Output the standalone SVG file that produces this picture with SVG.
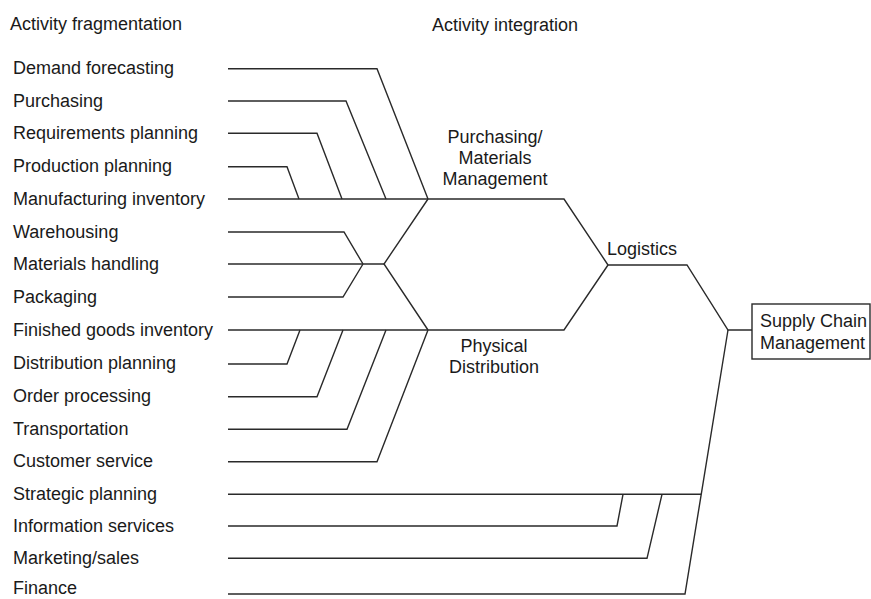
<svg xmlns="http://www.w3.org/2000/svg" width="871" height="599" viewBox="0 0 871 599">
<style>
text{font-family:"Liberation Sans",Arial,sans-serif;font-size:18px;fill:#1a1a1a}
.c{text-anchor:middle}
.ln{fill:none;stroke:#2a2a2a;stroke-width:1.4;stroke-linejoin:miter}
</style>
<rect width="871" height="599" fill="#fff"/>
<g id="headers">
<text x="10" y="30">Activity fragmentation</text>
<text x="432" y="31">Activity integration</text>
</g>
<g id="activities">
<text x="13" y="74">Demand forecasting</text>
<text x="13" y="106.5">Purchasing</text>
<text x="13" y="139">Requirements planning</text>
<text x="13" y="172">Production planning</text>
<text x="13" y="204.5">Manufacturing inventory</text>
<text x="13" y="237.5">Warehousing</text>
<text x="13" y="270">Materials handling</text>
<text x="13" y="302.5">Packaging</text>
<text x="13" y="335.5">Finished goods inventory</text>
<text x="13" y="369">Distribution planning</text>
<text x="13" y="402">Order processing</text>
<text x="13" y="435">Transportation</text>
<text x="13" y="467">Customer service</text>
<text x="13" y="500">Strategic planning</text>
<text x="13" y="532">Information services</text>
<text x="13" y="564">Marketing/sales</text>
<text x="13" y="594">Finance</text>
</g>
<g id="node-pmm">
<text class="c" x="495" y="143">Purchasing/</text>
<text class="c" x="495" y="164">Materials</text>
<text class="c" x="495" y="185">Management</text>
</g>
<g id="node-pd">
<text class="c" x="494" y="352">Physical</text>
<text class="c" x="494" y="373">Distribution</text>
</g>
<g id="node-logistics">
<text x="607" y="255">Logistics</text>
</g>
<g id="node-scm">
<rect x="752" y="304" width="118" height="55" fill="#fff" stroke="#2a2a2a" stroke-width="1.4"/>
<text x="760" y="327">Supply Chain</text>
<text x="760" y="349">Management</text>
</g>
<g id="connectors" class="ln">
<polyline class="ln" points="228,68.7 377,68.7 428,199"/>
<polyline class="ln" points="228,101 346,101 386,199"/>
<polyline class="ln" points="228,133.3 317,133.3 342,199"/>
<polyline class="ln" points="228,166.7 287,166.7 299,199"/>
<polyline class="ln" points="228,199 564,199 608,265"/>
<polyline class="ln" points="228,232 344,232 363,264"/>
<polyline class="ln" points="228,297 343,297 363,264"/>
<polyline class="ln" points="228,264 384,264"/>
<polyline class="ln" points="428,199 384,264 428,330"/>
<polyline class="ln" points="228,330 564,330 608,265"/>
<polyline class="ln" points="228,364 287,364 300,330"/>
<polyline class="ln" points="228,396.7 317,396.7 343,330"/>
<polyline class="ln" points="228,429.3 347,429.3 386,330"/>
<polyline class="ln" points="228,461.7 377,461.7 428,330"/>
<polyline class="ln" points="608,265 687,265 728,330 752,330"/>
<polyline class="ln" points="728,330 685,594 228,594"/>
<polyline class="ln" points="228,494.3 701,494.3"/>
<polyline class="ln" points="228,526 617,526 623,494.3"/>
<polyline class="ln" points="228,558.3 647,558.3 662,494.3"/>
</g>
</svg>
